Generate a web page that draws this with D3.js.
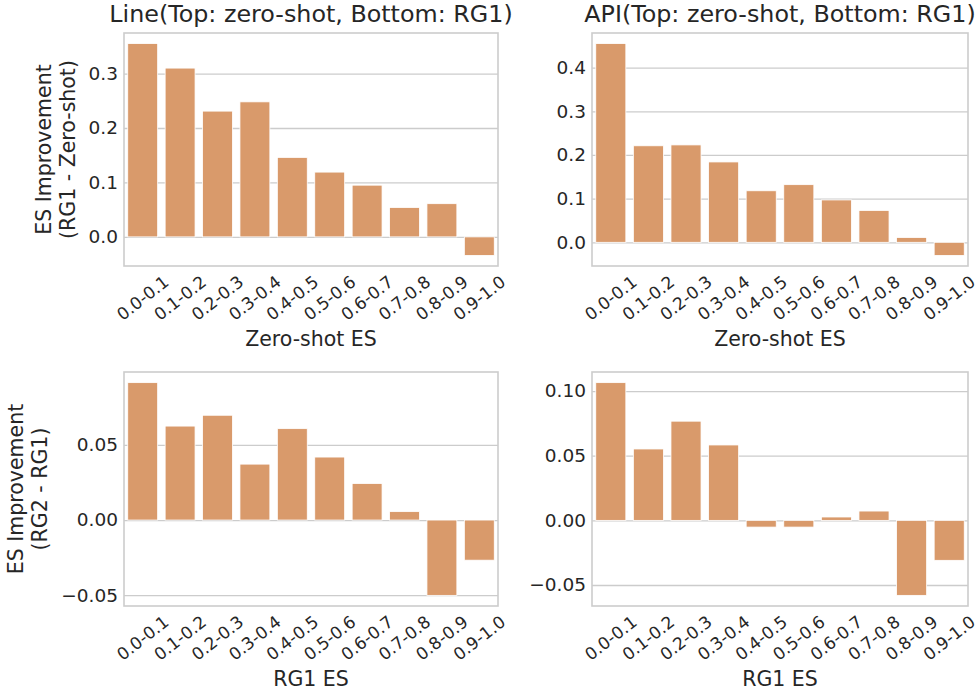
<!DOCTYPE html>
<html>
<head>
<meta charset="utf-8">
<script src="https://cdn.jsdelivr.net/npm/d3@7"></script>
<style>
  body { margin: 0; background: #fff; }
  svg text { font-family: "DejaVu Sans", sans-serif; fill: #262626; }
</style>
</head>
<body>
<div id="my_dataviz"></div>
<script>
'use strict';

// categories (x axis bins)
const bins = ['0.0-0.1','0.1-0.2','0.2-0.3','0.3-0.4','0.4-0.5','0.5-0.6','0.6-0.7','0.7-0.8','0.8-0.9','0.9-1.0'];

// ES improvement values
const lineZeroShot = [0.355, 0.310, 0.231, 0.248, 0.146, 0.119, 0.095, 0.054, 0.061, -0.034];
const apiZeroShot  = [0.455, 0.221, 0.223, 0.184, 0.118, 0.132, 0.097, 0.073, 0.011, -0.030];
const lineRG1      = [0.0914, 0.0625, 0.0697, 0.0372, 0.0608, 0.0419, 0.0243, 0.0056, -0.0501, -0.0267];
const apiRG1       = [0.1065, 0.0552, 0.0767, 0.0583, -0.0052, -0.0052, 0.0026, 0.0072, -0.0580, -0.0309];

// y tick values
const ticksLineTop = [0.0, 0.1, 0.2, 0.3];
const ticksApiTop  = [0.0, 0.1, 0.2, 0.3, 0.4];
const ticksLineBot = [-0.05, 0.00, 0.05];
const ticksApiBot  = [-0.05, 0.00, 0.05, 0.10];

const titles = ['Line(Top: zero-shot, Bottom: RG1)', 'API(Top: zero-shot, Bottom: RG1)'];
const xLabels = ['Zero-shot ES', 'RG1 ES'];
const yLabels = [['ES Improvement', '(RG1 - Zero-shot)'], ['ES Improvement', '(RG2 - RG1)']];

const barColor = '#d99a6b';
const gridColor = '#cccccc';

const width = 979, height = 694;

const svg = d3.select('#my_dataviz')
  .append('svg')
    .attr('width', width)
    .attr('height', height);

// one panel = one axes of the 2x2 grid
const panels = [
  {values: lineZeroShot, ticks: ticksLineTop, fmt: '.1f', x0: 124, x1: 498, y0: 33, y1: 266, title: titles[0], xlab: xLabels[0], ylab: yLabels[0], ylabX: 51},
  {values: apiZeroShot,  ticks: ticksApiTop,  fmt: '.1f', x0: 592, x1: 968, y0: 33, y1: 266, title: titles[1], xlab: xLabels[0], ylab: null},
  {values: lineRG1,      ticks: ticksLineBot, fmt: '.2f', x0: 124, x1: 498, y0: 372, y1: 606, title: null, xlab: xLabels[1], ylab: yLabels[1], ylabX: 23},
  {values: apiRG1,       ticks: ticksApiBot,  fmt: '.2f', x0: 592, x1: 968, y0: 372, y1: 606, title: null, xlab: xLabels[1], ylab: null}
];

function drawPanel(p){
  let g = svg.append('g');

  // matplotlib style autoscale: data range (incl. 0) plus 5% margin
  let lo = Math.min(0, d3.min(p.values)), hi = Math.max(0, d3.max(p.values));
  let m = (hi - lo) * 0.05;

  let x = d3.scaleBand()
    .domain(bins)
    .range([p.x0, p.x1])
    .paddingInner(0.2)
    .paddingOuter(0.1);

  let y = d3.scaleLinear()
    .domain([lo - m, hi + m])
    .range([p.y1, p.y0]);

  // grid lines + y tick labels
  let yAxis = g.append('g')
    .attr('transform', 'translate(' + p.x0 + ',0)')
    .call(d3.axisLeft(y).tickValues(p.ticks).tickFormat(d3.format(p.fmt)).tickSize(-(p.x1 - p.x0)).tickPadding(6));
  yAxis.select('.domain').remove();
  yAxis.selectAll('.tick line')
    .attr('stroke', gridColor)
    .attr('stroke-width', 1.3);
  yAxis.selectAll('.tick text')
    .style('font-size', '18.5px')
    .attr('fill', '#262626');

  // bars
  g.selectAll('rect.bar')
    .data(p.values)
    .enter()
    .append('rect')
    .attr('class', 'bar')
    .attr('x', (d, i) => x(bins[i]))
    .attr('y', d => y(Math.max(0, d)))
    .attr('width', x.bandwidth())
    .attr('height', d => Math.abs(y(d) - y(0)))
    .style('fill', barColor)
    .style('stroke', '#ffffff')
    .style('stroke-width', 0.8);

  // frame
  g.append('rect')
    .attr('x', p.x0)
    .attr('y', p.y0)
    .attr('width', p.x1 - p.x0)
    .attr('height', p.y1 - p.y0)
    .style('fill', 'none')
    .style('stroke', gridColor)
    .style('stroke-width', 1.6);

  // rotated x tick labels, centred under each bar
  g.selectAll('text.xtick')
    .data(bins)
    .enter()
    .append('text')
    .attr('class', 'xtick')
    .attr('text-anchor', 'middle')
    .attr('dy', '0.35em')
    .attr('transform', d => 'translate(' + (x(d) + x.bandwidth() / 2) + ',' + (p.y1 + 32) + ') rotate(-38)')
    .style('font-size', '17px')
    .text(d => d);

  // x label
  g.append('text')
    .attr('x', (p.x0 + p.x1) / 2)
    .attr('y', p.y1 + 80)
    .attr('text-anchor', 'middle')
    .style('font-size', '20.5px')
    .text(p.xlab);

  if(p.title){
    g.append('text')
      .attr('x', (p.x0 + p.x1) / 2)
      .attr('y', 22)
      .attr('text-anchor', 'middle')
      .style('font-size', '23.8px')
      .text(p.title);
  }

  if(p.ylab){
    let cy = (p.y0 + p.y1) / 2;
    p.ylab.forEach(function(line, i){
      g.append('text')
        .attr('transform', 'translate(' + (p.ylabX + i * 23.5) + ',' + cy + ') rotate(-90)')
        .attr('text-anchor', 'middle')
        .style('font-size', '20.5px')
        .text(line);
    });
  }
}

panels.forEach(drawPanel);
</script>
</body>
</html>
